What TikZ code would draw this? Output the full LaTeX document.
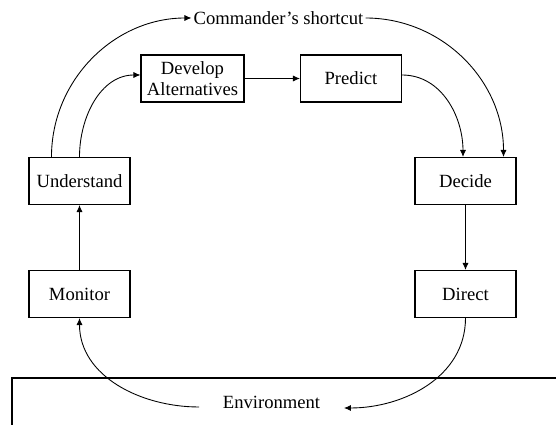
\documentclass[tikz,border=0pt]{standalone}
\usepackage{fontspec}
\setmainfont{Liberation Serif}
\usetikzlibrary{arrows.meta}

\begin{document}
\begin{tikzpicture}[x=0.02cm,y=-0.02cm,>={Latex[length=4pt,width=3.5pt]},
		box/.style={draw,line width=0.6pt,minimum width=2.02cm,minimum height=0.94cm,inner sep=1pt,align=center,font=\fontsize{10.6}{12}\selectfont},
		flow/.style={->,line width=0.5pt}]
		\useasboundingbox (0,0) rectangle (556,425);
		
		\node[box] (und) at (79.5,181) {Understand};
		\node[box] (mon) at (79.5,294) {Monitor};
		\node[box,minimum width=2.06cm] (dev) at (192.5,78.5) {Develop\\Alternatives};
		\node[box] (pred) at (351,78.5) {Predict};
		\node[box] (dec) at (465.5,181) {Decide};
		\node[box] (dir) at (465.5,294) {Direct};
		
		\draw[line width=0.6pt] (12,425) -- (12,378) -- (556,378);
		\node[font=\fontsize{10.6}{12}\selectfont,inner xsep=0.47cm] (env) at (271.5,402) {Environment};
		\node[font=\fontsize{10.6}{12}\selectfont,inner sep=1pt] (cmd) at (278.5,18) {Commander's shortcut};
		
		\draw[flow] ([xshift=0.46cm]und.north west) to[out=90,in=180] (cmd.west);
		\draw[flow] (cmd.east) to[out=0,in=90] ([xshift=-0.26cm]dec.north east);
		\draw[flow] (und.north) to[out=90,in=180] ([yshift=0.07cm]dev.west);
		\draw[flow] (dev) -- (pred);
		\draw[flow] ([yshift=0.07cm]pred.east) to[out=0,in=90] ([xshift=-0.05cm]dec.north);
		\draw[flow] (dec) -- (dir);
		\draw[flow] (mon) -- (und);
		\draw[flow] (dir.south) to[out=-90,in=0] ([yshift=-0.12cm]env.east);
		\draw[flow] ([yshift=-0.1cm]env.west) to[out=180,in=-90] (mon.south);
	\end{tikzpicture}
\end{document}
